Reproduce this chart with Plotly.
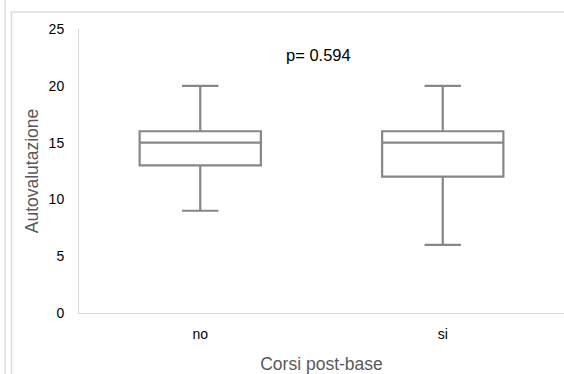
import plotly.graph_objects as go

categories = ["no", "si"]
q1 = [13, 12]
median = [15, 15]
q3 = [16, 16]
lower = [9, 6]
upper = [20, 20]
p_label = "p= 0.594"
y_ticks = [0, 5, 10, 15, 20, 25]

W, H = 564, 374
L, R, T, B = 79, 0, 29, 61
pw, ph = W - L - R, H - T - B

def px_x(x):
    return (x - L) / pw

def px_y(y):
    return (H - B - y) / ph

fig = go.Figure()
fig.add_trace(go.Box(
    x=categories, q1=q1, median=median, q3=q3,
    lowerfence=lower, upperfence=upper,
    boxpoints=False, width=0.5, whiskerwidth=0.3,
    line=dict(color="#878787", width=2.2), fillcolor="white",
    showlegend=False, hoverinfo="skip",
))

line_col = "#dcdcdc"
shapes = [
    dict(type="line", xref="paper", yref="paper", x0=px_x(5), x1=px_x(5),
         y0=px_y(0), y1=px_y(H), line=dict(color=line_col, width=1.5)),
    dict(type="line", xref="paper", yref="paper", x0=px_x(11.5), x1=px_x(11.5),
         y0=px_y(12), y1=px_y(H), line=dict(color=line_col, width=1.5)),
    dict(type="line", xref="paper", yref="paper", x0=px_x(11), x1=1.0,
         y0=px_y(12), y1=px_y(12), line=dict(color=line_col, width=1.5)),
]

fig.update_layout(
    width=W, height=H,
    margin=dict(l=L, r=R, t=T, b=B),
    paper_bgcolor="white", plot_bgcolor="white",
    font=dict(family="Liberation Sans, Arial, sans-serif", color="#000000", size=14),
    shapes=shapes,
    annotations=[dict(text=p_label, xref="paper", yref="paper",
                      x=px_x(318), y=px_y(44), showarrow=False,
                      font=dict(size=16.5, color="#000000"))],
    xaxis=dict(
        type="category", range=[-0.5, 1.5], showline=True, linecolor="#d9d9d9",
        linewidth=1, showgrid=False, ticks="", zeroline=False,
        ticklabelstandoff=8, tickfont=dict(size=14),
        title=dict(text="Corsi post-base", font=dict(size=17.5, color="#595959"), standoff=16),
        automargin=False,
    ),
    yaxis=dict(
        range=[0, 25], tickvals=y_ticks, showline=True, linecolor="#d9d9d9",
        linewidth=1, showgrid=False, ticks="", zeroline=False,
        ticklabelstandoff=11, tickfont=dict(size=14),
        title=dict(text="Autovalutazione", font=dict(size=17.5, color="#595959"), standoff=5),
        automargin=False,
    ),
)

fig.write_html("out.html")
